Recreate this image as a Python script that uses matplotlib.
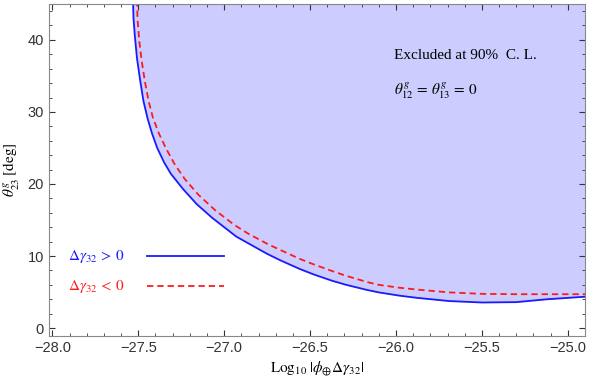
import matplotlib
matplotlib.use('Agg')
import matplotlib.pyplot as plt
from matplotlib.ticker import MultipleLocator, FuncFormatter

plt.rcParams['mathtext.fontset'] = 'stix'
plt.rcParams['font.family'] = 'Liberation Sans'

# boundary for dgamma32 > 0 (blue, solid)
blue_x = [-27.531, -27.528, -27.520, -27.508, -27.490, -27.470, -27.445, -27.420, -27.390,
          -27.350, -27.310, -27.240, -27.160, -27.070, -26.930, -26.750, -26.673, -26.560,
          -26.480, -26.370, -26.290, -26.170, -26.100, -25.980, -25.880, -25.690, -25.500,
          -25.300, -25.120, -24.900]
blue_y = [45.5, 43.0, 40.5, 37.5, 34.5, 31.5, 29.0, 27.0, 25.0,
          23.0, 21.4, 19.3, 17.2, 15.3, 12.7, 10.3, 9.4, 8.2,
          7.45, 6.55, 6.0, 5.3, 4.95, 4.5, 4.2, 3.75, 3.55,
          3.6, 4.0, 4.35]

# boundary for dgamma32 < 0 (red, dashed)
red_x = [-27.507, -27.505, -27.495, -27.480, -27.460, -27.440, -27.415, -27.380, -27.340,
         -27.290, -27.230, -27.150, -27.050, -26.940, -26.860, -26.750, -26.670, -26.560,
         -26.480, -26.370, -26.290, -26.170, -26.100, -25.980, -25.880, -25.690, -25.500,
         -25.300, -25.100, -24.900]
red_y = [45.5, 43.0, 40.0, 37.0, 34.0, 31.5, 29.2, 27.0, 25.0,
         22.8, 20.7, 18.5, 16.3, 14.3, 13.1, 11.7, 10.8, 9.6,
         8.85, 7.9, 7.25, 6.4, 6.0, 5.6, 5.35, 4.95, 4.75,
         4.7, 4.7, 4.7]

fig = plt.figure(figsize=(5.9, 3.84), dpi=100)
ax = fig.add_axes([0.083, 0.125, 0.9085, 0.865])

ax.fill_between(blue_x, blue_y, 50, color='#ccccff', lw=0)
ax.plot(blue_x, blue_y, color='#1a1aff', lw=1.3)
ax.plot(red_x, red_y, color='#ff1a1a', lw=1.3, ls=(0, (3.5, 2.2)))

# legend drawn by hand
ax.plot([-27.45, -27.0], [10, 10], color='#1a1aff', lw=1.3)
ax.plot([-27.45, -27.0], [5.8, 5.8], color='#ff1a1a', lw=1.3, ls=(0, (3.5, 2.2)))
ax.text(-27.91, 10, r'$\Delta\gamma_{32}\,>\,0$', color='#1a1aff', fontsize=11, va='center')
ax.text(-27.91, 5.8, r'$\Delta\gamma_{32}\,<\,0$', color='#ff1a1a', fontsize=11, va='center')

ax.text(-26.01, 37.8, 'Excluded at 90%  C. L.', fontsize=11, family='Liberation Serif', va='center')
ax.text(-26.01, 33.0, r'$\theta^g_{12}\,=\,\theta^g_{13}\,=\,0$', fontsize=11, va='center')

ax.set_xlim(-28.02, -24.9)
ax.set_ylim(-1.1, 45)
ax.xaxis.set_major_locator(MultipleLocator(0.5))
ax.xaxis.set_minor_locator(MultipleLocator(0.1))
ax.yaxis.set_major_locator(MultipleLocator(10))
ax.yaxis.set_minor_locator(MultipleLocator(2))
ax.xaxis.set_major_formatter(FuncFormatter(lambda v, p: ('\u2212' if v < 0 else '') + '%.1f' % abs(v)))
ax.tick_params(which='both', direction='in', top=True, right=True, labelsize=10.5, colors='#333333')
ax.tick_params(which='major', length=4)
ax.tick_params(which='minor', length=2.5)
for s in ax.spines.values():
    s.set_color('#888888')

ax.set_xlabel(r'$\mathrm{Log}_{10}\;|\phi_{\oplus}\Delta\gamma_{32}|$', fontsize=11)
ax.set_ylabel(r'$\theta^g_{23}\;\mathrm{[deg]}$', fontsize=11)

plt.savefig('out.png', dpi=100)
